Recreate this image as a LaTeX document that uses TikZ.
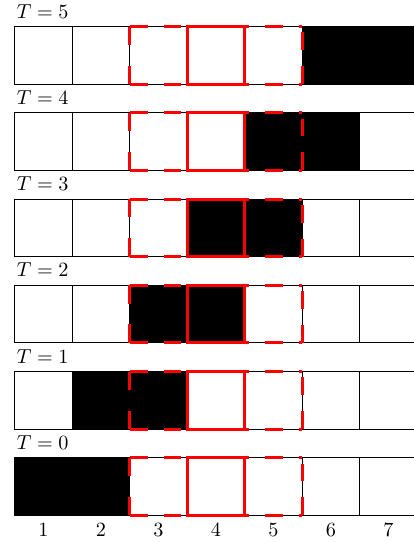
\documentclass[tikz,border=0pt]{standalone}
\tikzset{
  cell/.style={draw=black, line width=0.5pt, minimum size=1cm, inner sep=0pt, outer sep=0pt},
  redsolid/.style={draw=red, line width=1.5pt},
  reddash/.style={draw=red, line width=1.5pt, dash pattern=on 0.31cm off 0.28cm},
  reddashleft/.style={draw=red, line width=1.5pt, dash pattern=on 0.32cm off 0.36cm},
  tlabel/.style={anchor=base west, inner sep=0pt},
  numlabel/.style={anchor=base, inner sep=0pt}
}
\begin{document}
\begin{tikzpicture}
\useasboundingbox (-0.256,-0.464) rectangle (6.927,8.962);
\foreach \k in {0,...,5} {
  \foreach \i in {1,...,7} {
    \pgfmathparse{or(\i==\k+1,\i==\k+2) ? "black" : "white"}
    \edef\fc{\pgfmathresult}
    \node[cell, fill=\fc] (c-\k-\i) at (\i-0.5, 1.5*\k+0.5) {};
  }
  \node[tlabel] (t-\k) at (0.03, 1.5*\k+1.146) {$T=\k$};
  \draw[reddash] (c-\k-3.north west) -- (c-\k-5.north east);
  \draw[reddash] (c-\k-3.south west) -- (c-\k-5.south east);
  \draw[reddash] (c-\k-5.south east) -- (c-\k-5.north east);
  \draw[reddashleft] (c-\k-3.north west) -- (c-\k-3.south west);
  \draw[redsolid] (c-\k-4.south west) rectangle (c-\k-4.north east);
}
\foreach \i in {1,...,7} {
  \node[numlabel] (n-\i) at (\i-0.5,-0.36) {$\i$};
}
\end{tikzpicture}
\end{document}
